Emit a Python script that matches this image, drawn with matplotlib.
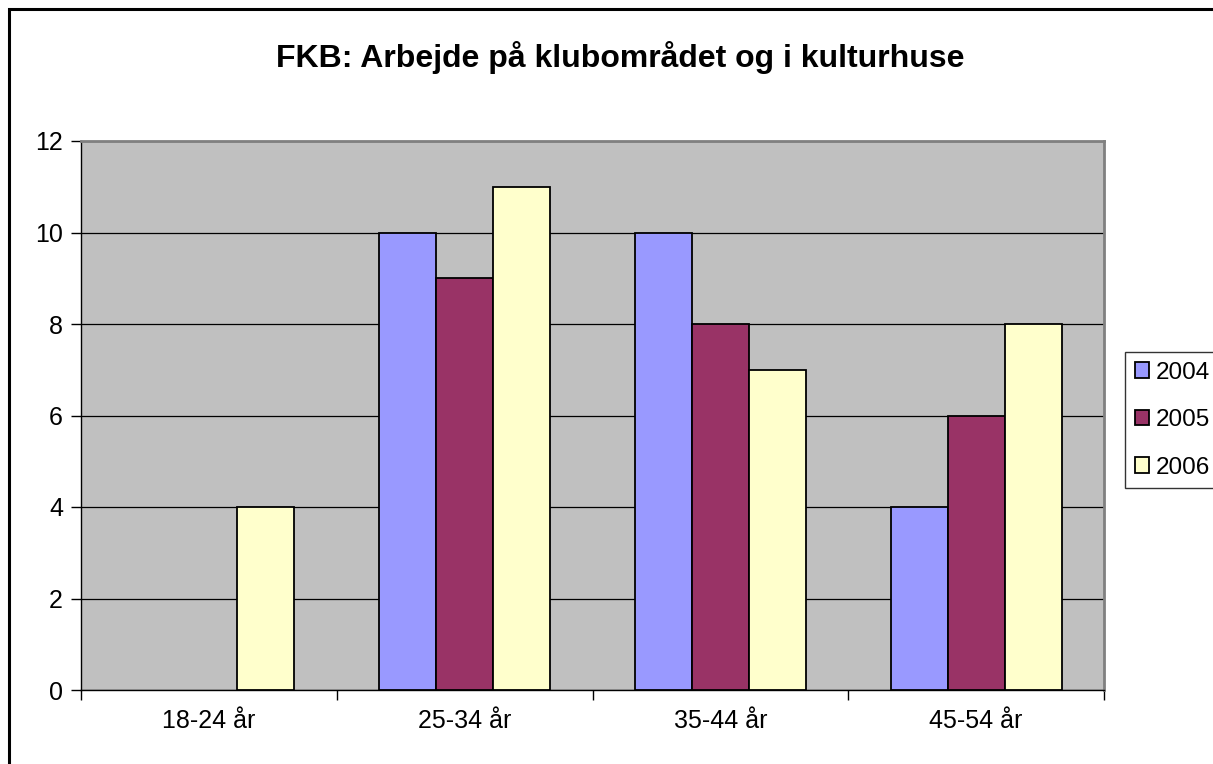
import matplotlib.pyplot as plt
import numpy as np
from matplotlib.patches import Rectangle

plt.rcParams['font.family'] = ['Liberation Sans', 'DejaVu Sans']

categories = ['18-24 år', '25-34 år', '35-44 år', '45-54 år']
years = ['2004', '2005', '2006']
v2004 = [0, 10, 10, 4]
v2005 = [0, 9, 8, 6]
v2006 = [4, 11, 7, 8]
colors = ['#9999FF', '#993366', '#FFFFCC']

fig = plt.figure(figsize=(12.13, 7.64), dpi=100)
# outer chart frame (runs off the right/bottom edge like the original)
fig.patches.append(Rectangle((9/1213, -0.05), 1.2, 1 - 9/764 + 0.05, transform=fig.transFigure,
                             fill=False, edgecolor='black', linewidth=2.2))

ax = fig.add_axes([81/1213, 1 - 690/764, (1104 - 81)/1213, (690 - 141)/764])
ax.set_facecolor('#C0C0C0')

x = np.arange(len(categories))
w = 0.223
for i, (vals, c, lab) in enumerate(zip([v2004, v2005, v2006], colors, years)):
    lw = [1.3 if v > 0 else 0 for v in vals]
    ax.bar(x + (i - 1) * w, vals, w, color=c, edgecolor='black', linewidth=lw, label=lab, zorder=3)

ax.set_xlim(-0.5, 3.5)
ax.set_ylim(0, 12)
ax.set_yticks(range(0, 13, 2))
ax.yaxis.grid(True, color='black', linewidth=0.9, zorder=1)
ax.set_xticks(x)
ax.set_xticklabels(categories)
ax.set_xticks(np.arange(-0.5, 4, 1), minor=True)
ax.tick_params(axis='x', which='major', length=0, pad=14, labelsize=18)
ax.tick_params(axis='x', which='minor', length=7, width=1, direction='out')
ax.tick_params(axis='y', length=7, width=1, direction='out', pad=6, labelsize=18)

for s in ['top', 'right']:
    ax.spines[s].set_color('#808080')
    ax.spines[s].set_linewidth(2)
for s in ['left', 'bottom']:
    ax.spines[s].set_color('black')
    ax.spines[s].set_linewidth(1)

fig.text(620/1213, 1 - 57/764, 'FKB: Arbejde på klubområdet og i kulturhuse',
         ha='center', va='center', fontsize=23, fontweight='bold')

leg = ax.legend(loc='upper left', bbox_to_anchor=(1125/1213, 1 - 352/764),
                bbox_transform=fig.transFigure, fontsize=17.5, frameon=True, fancybox=False,
                edgecolor='black', handlelength=0.6, handleheight=0.6, handletextpad=0.25,
                labelspacing=1.05, borderpad=0.4, borderaxespad=0)
leg.get_frame().set_linewidth(1)
for h in leg.legend_handles:
    h.set_linewidth(1.3)

fig.savefig('out.png', dpi=100)
